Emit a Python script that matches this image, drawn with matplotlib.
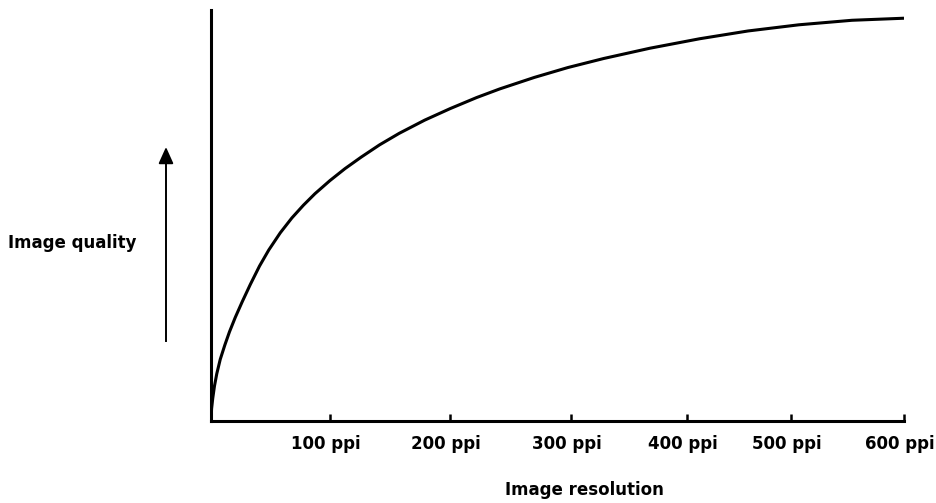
import matplotlib.pyplot as plt
from matplotlib.transforms import ScaledTranslation

# pontos (resolução em ppi, qualidade normalizada 0..1)
resolucao = [0, 0.5, 1.5, 3, 5, 8, 12, 16, 21, 27, 34, 42, 50, 60, 70, 80,
             90, 103, 116, 130, 146, 163, 185, 207, 230, 250, 280, 309, 340,
             380, 423, 465, 509, 555, 600]
qualidade = [0.0, 0.03, 0.055, 0.085, 0.115, 0.15, 0.185, 0.217, 0.252,
             0.29, 0.332, 0.377, 0.416, 0.458, 0.494, 0.525, 0.553, 0.585,
             0.614, 0.642, 0.672, 0.70, 0.732, 0.76, 0.787, 0.808, 0.836,
             0.86, 0.882, 0.907, 0.93, 0.949, 0.964, 0.975, 0.98]

posicoes_ticks = [103, 207, 312, 412, 502, 600]
rotulos_ticks = ["100 ppi", "200 ppi", "300 ppi", "400 ppi", "500 ppi", "600 ppi"]

plt.rcParams["font.family"] = ["DejaVu Sans"]

L, A = 937, 503
fig = plt.figure(figsize=(L / 100, A / 100), dpi=100)
ax = fig.add_axes([211 / L, (A - 421) / A, (904 - 211) / L, (421 - 10) / A])

ax.plot(resolucao, qualidade, color="black", linewidth=2.2,
        solid_joinstyle="round", solid_capstyle="butt")
ax.set_xlim(0, 600)
ax.set_ylim(0, 1)

for lado in ("top", "right"):
    ax.spines[lado].set_visible(False)
for lado in ("left", "bottom"):
    ax.spines[lado].set_linewidth(2.2)

ax.set_yticks([])
ax.set_xticks(posicoes_ticks)
ax.set_xticklabels(rotulos_ticks, fontsize=12, fontweight="bold")
ax.tick_params(axis="x", direction="in", length=5, width=1.8, pad=10)
desloc = ScaledTranslation(-4 / 100, 0, fig.dpi_scale_trans)
for rotulo in ax.get_xticklabels():
    rotulo.set_transform(rotulo.get_transform() + desloc)

# seta vertical ao lado do eixo
fig.add_artist(plt.Line2D([166 / L, 166 / L], [(A - 341) / A, (A - 158) / A],
                          color="black", linewidth=1.4))
ax.annotate("", xy=(166, A - 147), xytext=(166, A - 162),
            xycoords="figure pixels", textcoords="figure pixels",
            arrowprops=dict(arrowstyle="-|>,head_width=0.45,head_length=1.0",
                            color="black", linewidth=1.4, shrinkA=0, shrinkB=0))

fig.text(137 / L, (A - 243) / A, "Image quality", ha="right", va="center",
         fontsize=12, fontweight="bold")
fig.text(584 / L, (A - 490) / A, "Image resolution", ha="center", va="center",
         fontsize=12, fontweight="bold")

fig.savefig("out.png", dpi=100)
